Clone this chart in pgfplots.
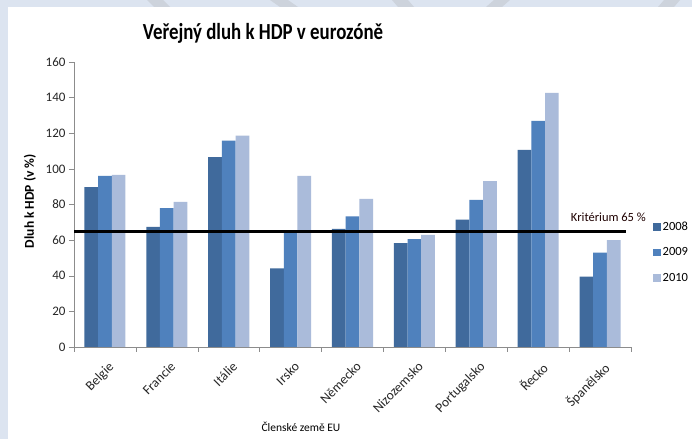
\documentclass[border=0pt]{standalone}
\usepackage{fontspec}
\setmainfont{Carlito}
\newfontfamily\titlefont[FakeStretch=0.82]{Carlito}
\usepackage{pgfplots}
\pgfplotsset{compat=1.18}
\definecolor{cA}{HTML}{406A9C}
\definecolor{cB}{HTML}{4F81BD}
\definecolor{cC}{HTML}{AABBDA}
\definecolor{bgc}{HTML}{DCE4F0}
\definecolor{stripe}{HTML}{CDD3DC}
\definecolor{axc}{HTML}{8C8C8C}
\begin{document}
\begin{tikzpicture}[x=1bp,y=1bp]
\path[use as bounding box] (-74,-92) rectangle (618,347);
\clip (-74,-92) rectangle (618,347);
\fill[bgc] (-74,-92) rectangle (618,347);
\fill[stripe] (73,347) -- (89,347) -- (96,340) -- (80,340) -- cycle;
\fill[stripe] (196,347) -- (214,347) -- (224,340) -- (206,340) -- cycle;
\fill[stripe] (318,347) -- (334,347) -- (340,340) -- (324,340) -- cycle;
\fill[stripe] (420,347) -- (436,347) -- (428,340) -- (412,340) -- cycle;
\fill[stripe] (590,347) -- (606,347) -- (600,340) -- (584,340) -- cycle;
\fill[white] (-66,-92) rectangle (618,340);
\begin{axis}[
  at={(0,0)}, anchor=south west,
  scale only axis, width=557bp, height=285bp,
  xmin=-0.5, xmax=8.5, ymin=0, ymax=160,
  axis x line*=bottom, axis y line*=left,
  axis line style={axc},
  every tick/.style={axc},
  tick align=outside,
  major tick length=5bp, minor tick length=5bp,
  ytick={0,20,...,160},
  xtick={0,...,8},
  major x tick style={draw=none},
  minor xtick={-0.5,0.5,...,8.5},
  xticklabels={Belgie,Francie,Itálie,Irsko,Německo,Nizozemsko,Portugalsko,Řecko,Španělsko},
  x tick label style={rotate=45, anchor=north east, xshift=-1bp, yshift=-5bp, font=\fontsize{13.5bp}{16bp}\selectfont, text=black!85},
  y tick label style={font=\fontsize{13bp}{15bp}\selectfont, text=black!85},
  /pgf/number format/assume math mode=true,
  ylabel={Dluh k HDP (v \%)},
  ylabel style={at={(axis description cs:-0.079,0.512)}, anchor=center, font=\bfseries\fontsize{13.5bp}{15bp}\selectfont},
  xlabel={Členské země EU},
  xlabel style={at={(axis description cs:0.4075,-0.281)}, anchor=center, font=\fontsize{11.5bp}{13bp}\selectfont},
  legend style={at={(axis description cs:1.0395,0.447)}, anchor=north west, draw=none, fill=none, inner sep=0pt, row sep=12bp, font=\fontsize{12.5bp}{14bp}\selectfont},
  legend cell align=left,
  legend image code/.code={\fill[#1] (0bp,-3.8bp) rectangle (7.5bp,3.8bp);},
  clip=false,
]
\addplot[ybar, bar width=13.7bp, bar shift=-13.7bp, fill=cA, draw=none] coordinates {
(0,89.7) (1,67.4) (2,106.6) (3,44.2) (4,66.3) (5,58.3) (6,71.5) (7,110.7) (8,39.5)};
\addplot[ybar, bar width=13.7bp, bar shift=0bp, fill=cB, draw=none] coordinates {
(0,96.0) (1,78.0) (2,115.8) (3,65.0) (4,73.4) (5,60.5) (6,82.6) (7,127.0) (8,53.0)};
\addplot[ybar, bar width=13.7bp, bar shift=13.7bp, fill=cC, draw=none] coordinates {
(0,96.6) (1,81.5) (2,118.7) (3,96.0) (4,83.1) (5,62.9) (6,93.1) (7,142.7) (8,60.0)};
\legend{2008,2009,2010}
\addplot[black, line width=2.6bp, sharp plot, no marks, forget plot] coordinates {(-0.5,65) (8.42,65)};
\node[font=\fontsize{12.5bp}{14bp}\selectfont, text=black!80!red!60!black] at (axis cs:8.135,73) {Kritérium 65 \%};
\end{axis}
\node[font=\titlefont\bfseries\fontsize{23bp}{26bp}\selectfont, anchor=base] at (189,307) {Veřejný dluh k HDP v eurozóně};
\end{tikzpicture}
\end{document}
